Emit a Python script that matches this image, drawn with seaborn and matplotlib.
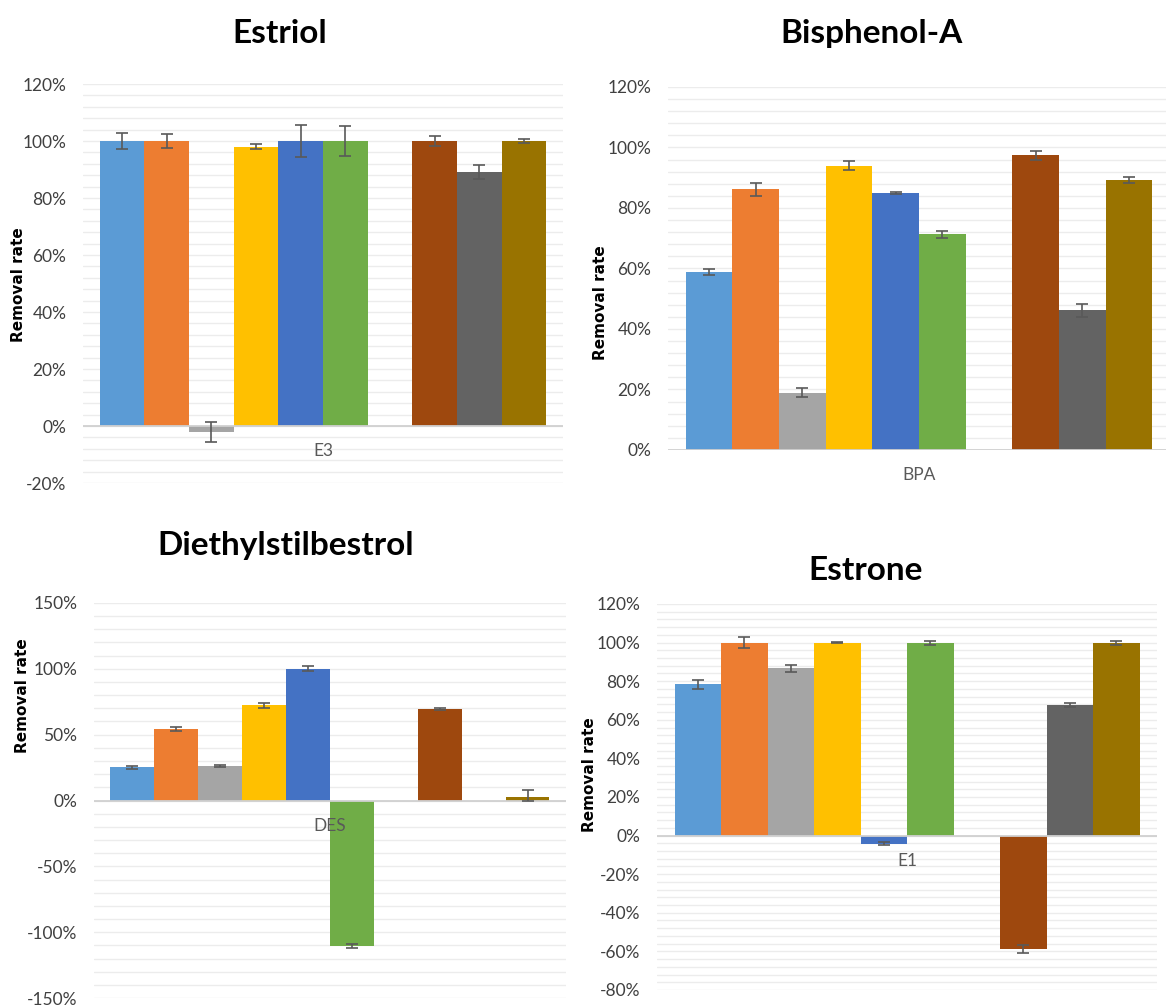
import numpy as np
import pandas as pd
import matplotlib
matplotlib.use("Agg")
import matplotlib.pyplot as plt
import seaborn as sns
from matplotlib.ticker import MultipleLocator, PercentFormatter

sns.set_style("white")
plt.rcParams['font.family'] = ['Lato', 'DejaVu Sans']
plt.rcParams['axes.unicode_minus'] = False

# ten treatments (Excel default palette order), one compound per panel
series = ["T1", "T2", "T3", "T4", "T5", "T6", "T7", "T8", "T9", "T10"]
colors = ["#5B9BD5", "#ED7D31", "#A5A5A5", "#FFC000", "#4472C4",
          "#70AD47", "#264478", "#9E480E", "#636363", "#997300"]

# removal rate (%) and error (%), nan = no bar
e3_vals = [100.0, 100.0, -2.0, 98.0, 100.0, 100.0, np.nan, 100.0, 89.2, 100.0]
e3_err = [2.8, 2.5, 3.5, 0.8, 5.7, 5.2, np.nan, 1.7, 2.5, 0.8]

bpa_vals = [58.8, 86.2, 18.9, 93.9, 85.0, 71.3, np.nan, 97.5, 46.2, 89.2]
bpa_err = [1.0, 2.1, 1.5, 1.5, 0.3, 1.2, np.nan, 1.5, 2.1, 0.9]

des_vals = [25.1, 54.1, 26.3, 72.2, 100.0, -110.5, np.nan, 69.4, np.nan, 2.8]
des_err = [1.2, 1.5, 0.5, 2.0, 2.0, 1.2, np.nan, 0.5, np.nan, 5.2]

e1_vals = [78.3, 100.0, 86.6, 100.0, -4.3, 100.0, np.nan, -58.8, 67.8, 100.0]
e1_err = [2.4, 3.0, 2.0, 0.3, 0.8, 1.0, np.nan, 2.0, 1.0, 1.0]

panels = [
    dict(title="Estriol", cat="E3", vals=e3_vals, errs=e3_err, ylim=(-20, 120), major=20, minor=4,
         rect=[0.0712, 0.5208, 0.4117, 0.3958], tpos=(0.240, 0.967), lpos=(0.016, 0.718)),
    dict(title="Bisphenol-A", cat="BPA", vals=bpa_vals, errs=bpa_err, ylim=(0, 120), major=20, minor=4,
         rect=[0.5729, 0.5536, 0.4305, 0.3601], tpos=(0.747, 0.967), lpos=(0.515, 0.700)),
    dict(title="Diethylstilbestrol", cat="DES", vals=des_vals, errs=des_err, ylim=(-150, 150), major=50, minor=10,
         rect=[0.0806, 0.0099, 0.4048, 0.3919], tpos=(0.245, 0.459), lpos=(0.019, 0.310)),
    dict(title="Estrone", cat="E1", vals=e1_vals, errs=e1_err, ylim=(-80, 120), major=20, minor=4,
         rect=[0.5635, 0.0179, 0.4288, 0.3829], tpos=(0.742, 0.434), lpos=(0.506, 0.232)),
]


def draw_panel(fig, p):
    ax = fig.add_axes(p["rect"])
    vals = np.array(p["vals"], dtype=float)
    df = pd.DataFrame({"compound": p["cat"], "series": series, "rate": np.nan_to_num(vals)})
    sns.barplot(data=df, x="compound", y="rate", hue="series", hue_order=series,
                palette=colors, saturation=1, width=0.93, errorbar=None,
                legend=False, linewidth=0, ax=ax)
    for patch, v, e in zip(ax.patches, vals, p["errs"]):
        if np.isnan(e):
            continue
        lo = min(e, v) if v > 0 else e
        ax.errorbar(patch.get_x() + patch.get_width() / 2, v, yerr=[[lo], [e]],
                    fmt="none", ecolor="#595959", elinewidth=1.2, capsize=4, capthick=1.2, zorder=4)

    ax.set_xlim(-0.5, 0.5)
    ax.set_ylim(*p["ylim"])
    ax.yaxis.set_major_locator(MultipleLocator(p["major"]))
    ax.yaxis.set_minor_locator(MultipleLocator(p["minor"]))
    ax.yaxis.set_major_formatter(PercentFormatter(decimals=0))
    ax.grid(True, axis="y", which="both", color="#ECECEC", linewidth=1.0)
    ax.set_axisbelow(True)
    ax.axhline(0, color="#D0D0D0", linewidth=1.3, zorder=1)
    for s in ax.spines.values():
        s.set_visible(False)
    ax.set_xticks([])
    ax.set_xlabel("")
    ax.set_ylabel("")
    ax.tick_params(axis="y", which="both", length=0, pad=12, labelsize=12.5, labelcolor="#404040")
    ax.annotate(p["cat"], xy=(0, 0), xytext=(0, -18), textcoords="offset points",
                ha="center", va="center", fontsize=12.5, color="#595959")

    fig.text(*p["tpos"], p["title"], ha="center", va="center", fontsize=24,
             fontweight="bold", color="black")
    fig.text(*p["lpos"], "Removal rate", rotation=90, ha="center", va="center",
             fontsize=11, fontweight="bold", family="DejaVu Sans", color="black")
    return ax


fig = plt.figure(figsize=(11.66, 10.08), dpi=100)
for p in panels:
    draw_panel(fig, p)

fig.savefig("out.png", dpi=100, facecolor="white")
